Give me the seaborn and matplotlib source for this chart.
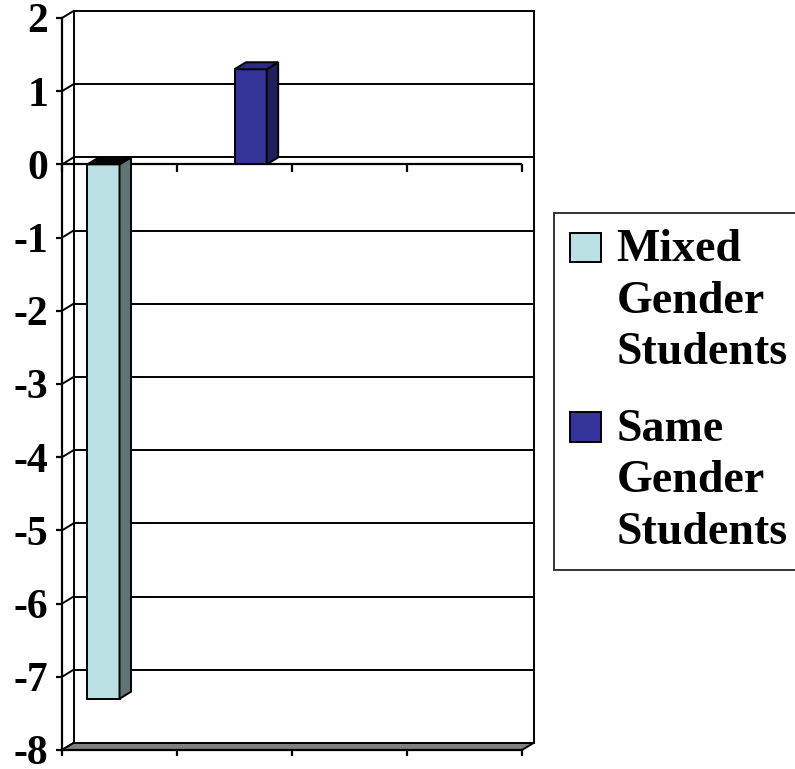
import numpy as np
import pandas as pd
import matplotlib
matplotlib.use("Agg")
import matplotlib.pyplot as plt
import seaborn as sns
from matplotlib.patches import Polygon, Rectangle, Patch
from matplotlib.transforms import ScaledTranslation
from matplotlib.legend_handler import HandlerBase
from matplotlib.colors import to_rgb

# ---- data -------------------------------------------------------------
categories = ["1", "2", "3", "4"]
series = ["Mixed Gender Students", "Same Gender Students"]
mixed_values = [-7.3, np.nan, np.nan, np.nan]
same_values = [np.nan, 1.3, np.nan, np.nan]
y_ticks = list(range(-8, 3))

# ---- styling ----------------------------------------------------------
front_colors = ["#BBE0E3", "#333399"]
side_colors = ["#5F7474", "#1F1F5E"]
top_colors = ["#050505", "#2B2B84"]
floor_color = "#808080"

rows = []
for cat, m, s in zip(categories, mixed_values, same_values):
    rows.append({"category": cat, "series": series[0], "value": m})
    rows.append({"category": cat, "series": series[1], "value": s})
df = pd.DataFrame(rows).dropna()

sns.set_theme(style="white")
plt.rcParams["font.family"] = ["Liberation Serif", "DejaVu Serif"]
plt.rcParams["axes.unicode_minus"] = False
plt.rcParams["text.color"] = "black"
plt.rcParams["xtick.color"] = "black"
plt.rcParams["ytick.color"] = "black"
plt.rcParams["xtick.labelcolor"] = "black"
plt.rcParams["ytick.labelcolor"] = "black"

W, H = 795, 769
fig = plt.figure(figsize=(W / 100, H / 100), dpi=100)
fig.patch.set_facecolor("white")

# front plane of the plot box (pixels)
x_left, x_right = 62, 522
y_top, y_bottom = 18, 750
ax = fig.add_axes([x_left / W, 1 - y_bottom / H,
                   (x_right - x_left) / W, (y_bottom - y_top) / H])
ax.set_facecolor("none")

sns.barplot(data=df, x="category", y="value", hue="series",
            order=categories, hue_order=series, palette=front_colors,
            saturation=1, width=0.56, dodge=True, edgecolor="black",
            linewidth=1.4, errorbar=None, legend=False, ax=ax)

ax.set_xlim(-0.5, len(categories) - 0.5)
ax.set_ylim(min(y_ticks), max(y_ticks))
x0, x1 = ax.get_xlim()
ymin, ymax = ax.get_ylim()

# depth of the pseudo-3D box
DX, DY = 11.5, 7
back = ax.transData + ScaledTranslation(DX / fig.dpi, DY / fig.dpi,
                                        fig.dpi_scale_trans)
inv = ax.transData.inverted()


def to_back(x, y):
    return tuple(inv.transform(back.transform((x, y))))


line_kw = dict(color="black", lw=1.4, clip_on=False, solid_capstyle="projecting")

# back wall: gridlines and edges
for v in y_ticks:
    ax.plot([x0, x1], [v, v], transform=back, zorder=1, **line_kw)
    bx, by = to_back(x0, v)
    ax.plot([x0, bx], [v, by], zorder=1, **line_kw)
ax.plot([x0, x0], [ymin, ymax], transform=back, zorder=1, **line_kw)
ax.plot([x1, x1], [ymin, ymax], transform=back, zorder=1, **line_kw)

# floor
floor = Polygon([(x0, ymin), (x1, ymin), to_back(x1, ymin), to_back(x0, ymin)],
                closed=True, facecolor=floor_color, edgecolor="black",
                lw=1.4, clip_on=False, zorder=2)
ax.add_patch(floor)

# category axis drawn at zero on the front plane
boundaries = np.arange(len(categories) + 1) - 0.5
ax.axhline(0, color="black", lw=1.6, zorder=3)
ax.plot(boundaries, np.zeros_like(boundaries), ls="none", marker=3,
        ms=6, mew=1.6, color="black", clip_on=False, zorder=3)

# side and top faces of each bar
for bar in list(ax.patches):
    if bar is floor:
        continue
    fc = bar.get_facecolor()[:3]
    k = 0 if np.allclose(fc, to_rgb(front_colors[0]), atol=0.02) else 1
    bx0 = bar.get_x()
    bx1 = bx0 + bar.get_width()
    lo = min(bar.get_y(), bar.get_y() + bar.get_height())
    hi = max(bar.get_y(), bar.get_y() + bar.get_height())
    side = Polygon([(bx1, lo), (bx1, hi), to_back(bx1, hi), to_back(bx1, lo)],
                   closed=True, facecolor=side_colors[k], edgecolor="black",
                   lw=1.4, zorder=4)
    top = Polygon([(bx0, hi), (bx1, hi), to_back(bx1, hi), to_back(bx0, hi)],
                  closed=True, facecolor=top_colors[k], edgecolor="black",
                  lw=1.4, zorder=4)
    ax.add_patch(side)
    ax.add_patch(top)
    bar.set_zorder(4)

# axes styling
for name in ("top", "right"):
    ax.spines[name].set_visible(False)
for name in ("left", "bottom"):
    ax.spines[name].set_color("black")
    ax.spines[name].set_linewidth(1.6)
    ax.spines[name].set_zorder(3)
ax.set_xticks(boundaries)
ax.set_xticklabels([])
ax.set_yticks(y_ticks)
ax.set_yticklabels([str(v) for v in y_ticks], fontsize=30,
                   fontweight="bold", color="black")
ax.tick_params(axis="both", direction="out", length=4, width=1.6,
               color="black", labelcolor="black", pad=6,
               left=True, bottom=True)
ax.set_xlabel("")
ax.set_ylabel("")
ax.grid(False)


class FirstLineSquare(HandlerBase):
    """Square key aligned with the first line of a wrapped label."""

    def __init__(self, raise_by, **kw):
        super().__init__(**kw)
        self.raise_by = raise_by

    def create_artists(self, legend, orig_handle, xdescent, ydescent,
                       width, height, fontsize, trans):
        size = width
        yc = self.raise_by * fontsize
        p = Rectangle((-xdescent, yc - 0.47 * size), width, 0.94 * size,
                      facecolor=orig_handle.get_facecolor(),
                      edgecolor="black", lw=1.4, transform=trans)
        return [p]


handles = [Patch(facecolor=c) for c in front_colors]
labels = ["\n".join(s.split()) for s in series]
leg = fig.legend(handles, labels, loc="upper left",
                 bbox_to_anchor=(554 / W, 1 - 213 / H),
                 bbox_transform=fig.transFigure, borderaxespad=0,
                 prop=dict(family="Liberation Serif", weight="bold", size=33),
                 frameon=True, fancybox=False, shadow=False,
                 handlelength=0.68, handleheight=0.68, handletextpad=0.33,
                 borderpad=0.35, labelspacing=0.75,
                 handler_map={Patch: FirstLineSquare(1.53)})
leg.get_frame().set_edgecolor("black")
leg.get_frame().set_linewidth(1.4)
leg.get_frame().set_facecolor("white")
for t in leg.get_texts():
    t.set_linespacing(1.3)
    t.set_color("black")

fig.savefig("out.png", dpi=100, facecolor="white")
